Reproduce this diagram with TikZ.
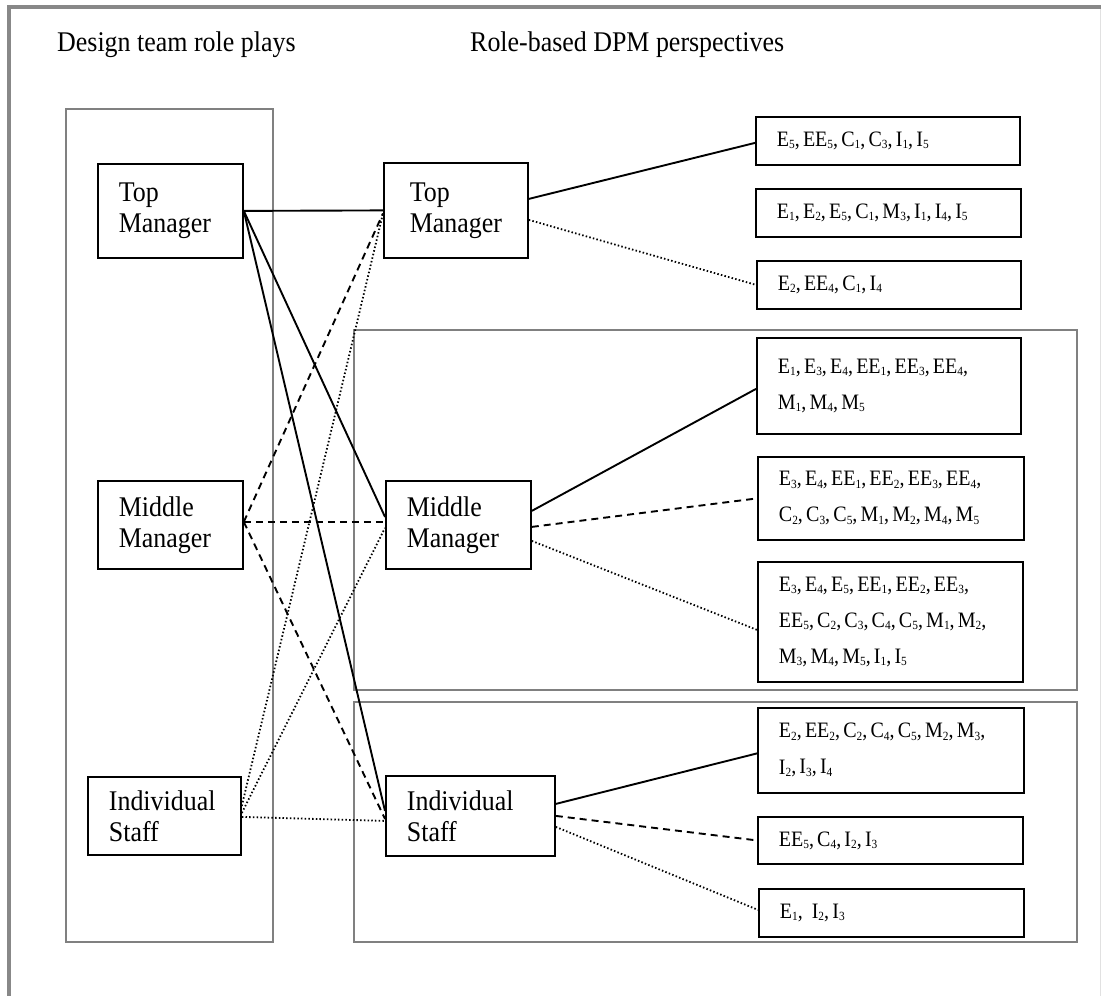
\documentclass[tikz,border=0pt]{standalone}
\usepackage{fontspec}
\setmainfont{Liberation Serif}[FakeStretch=0.91]
\usetikzlibrary{calc}
% small lowered index after a letter
\newcommand\sbs[1]{\raisebox{-2.5pt}{\fontsize{12.5}{12.5}\selectfont #1}}
% narrow word spaces inside the item boxes
\newcommand\tightspaces{\spaceskip=3.2pt plus 1pt\relax}
\definecolor{framegray}{RGB}{136,136,136}
\definecolor{groupgray}{RGB}{128,128,128}
\definecolor{edgegray}{RGB}{225,225,225}
\begin{document}
\begin{tikzpicture}[x=1pt,y=-1pt,
  rolebox/.style={draw,line width=1.8pt,align=left,inner xsep=21pt,inner ysep=0pt,
    anchor=north west,font=\fontsize{28.5}{31}\selectfont},
  itembox/.style={draw,line width=1.8pt,align=left,inner xsep=21pt,inner ysep=0pt,
    anchor=north west,font=\fontsize{22}{36}\selectfont,
    execute at begin node=\tightspaces},
  group/.style={draw=groupgray,line width=1.6pt},
  heading/.style={anchor=west,inner sep=0pt,font=\fontsize{28.5}{31}\selectfont},
  solidlink/.style={line width=1.9pt},
  dashedlink/.style={line width=1.9pt,dash pattern=on 7pt off 5pt},
  dottedlink/.style={line width=1.8pt,dash pattern=on 1.5pt off 2.2pt}]

\useasboundingbox (0,0) rectangle (1101,996);

% outer frame
\draw[edgegray,line width=1pt] (1100,7) -- (1100,996);
\draw[framegray,line width=3.5pt] (9,996) -- (9,7) -- (1101,7);

% headings
\node[heading] (h1) at (57,45) {Design team role plays};
\node[heading] (h2) at (470,45) {Role-based DPM perspectives};

% group frames
\draw[group] (66,109) rectangle (273,942);
\draw[group] (354,330) rectangle (1077,690);
\draw[group] (354,702) rectangle (1077,942);

% design team roles
\node[rolebox,minimum height=94pt,text width=103pt] (lt) at (97,163) {Top\\Manager};
\node[rolebox,minimum height=88pt,text width=103pt] (lm) at (97,480) {Middle\\Manager};
\node[rolebox,minimum height=78pt,text width=111pt] (ls) at (87,776) {Individual\\Staff};

% role-based perspectives
\node[rolebox,minimum height=95pt,text width=92pt,inner xsep=26pt] (mt) at (383,162) {Top\\Manager};
\node[rolebox,minimum height=88pt,text width=103pt] (mm) at (385,480) {Middle\\Manager};
\node[rolebox,minimum height=80pt,text width=127pt] (ms) at (385,775) {Individual\\Staff};

% perspective contents
\node[itembox,minimum height=48pt,text width=222pt] (r1) at (755,116)
  {E\sbs{5}, EE\sbs{5}, C\sbs{1}, C\sbs{3}, I\sbs{1}, I\sbs{5}};
\node[itembox,minimum height=48pt,text width=223pt] (r2) at (755,188)
  {E\sbs{1}, E\sbs{2}, E\sbs{5}, C\sbs{1}, M\sbs{3}, I\sbs{1}, I\sbs{4}, I\sbs{5}};
\node[itembox,minimum height=48pt,text width=222pt] (r3) at (756,260)
  {E\sbs{2}, EE\sbs{4}, C\sbs{1}, I\sbs{4}};
\node[itembox,minimum height=96pt,text width=222pt] (r4) at (756,337)
  {E\sbs{1}, E\sbs{3}, E\sbs{4}, EE\sbs{1}, EE\sbs{3}, EE\sbs{4},\\M\sbs{1}, M\sbs{4}, M\sbs{5}};
\node[itembox,minimum height=83pt,text width=224pt] (r5) at (757,456)
  {E\sbs{3}, E\sbs{4}, EE\sbs{1}, EE\sbs{2}, EE\sbs{3}, EE\sbs{4},\\C\sbs{2}, C\sbs{3}, C\sbs{5}, M\sbs{1}, M\sbs{2}, M\sbs{4}, M\sbs{5}};
\node[itembox,minimum height=120pt,text width=223pt] (r6) at (757,561)
  {E\sbs{3}, E\sbs{4}, E\sbs{5}, EE\sbs{1}, EE\sbs{2}, EE\sbs{3},\\EE\sbs{5}, C\sbs{2}, C\sbs{3}, C\sbs{4}, C\sbs{5}, M\sbs{1}, M\sbs{2},\\M\sbs{3}, M\sbs{4}, M\sbs{5}, I\sbs{1}, I\sbs{5}};
\node[itembox,minimum height=85pt,text width=224pt] (r7) at (757,707)
  {E\sbs{2}, EE\sbs{2}, C\sbs{2}, C\sbs{4}, C\sbs{5}, M\sbs{2}, M\sbs{3},\\I\sbs{2}, I\sbs{3}, I\sbs{4}};
\node[itembox,minimum height=47pt,text width=223pt] (r8) at (757,816)
  {EE\sbs{5}, C\sbs{4}, I\sbs{2}, I\sbs{3}};
\node[itembox,minimum height=48pt,text width=223pt] (r9) at (758,888)
  {E\sbs{1},\hspace{9pt}I\sbs{2}, I\sbs{3}};

% links from the top manager role
\draw[solidlink] (lt.east) -- (mt.west);
\draw[solidlink] (lt.east) -- ([yshift=8pt]mm.west);
\draw[solidlink] (lt.east) -- ([yshift=5pt]ms.west);

% links from the middle manager role
\draw[dashedlink] ([yshift=3pt]lm.east) -- ([yshift=-3pt]mt.west);
\draw[dashedlink] ([yshift=3pt]lm.east) -- ([yshift=3pt]mm.west);
\draw[dashedlink] ([yshift=3pt]lm.east) -- ([yshift=-3pt]ms.west);

% links from the individual staff role
\draw[dottedlink] ([yshift=10pt]ls.east) -- ([yshift=-3pt]mt.west);
\draw[dottedlink] ([yshift=3pt]ls.east) -- ([yshift=-3pt]mm.west);
\draw[dottedlink] ([yshift=-1pt]ls.east) -- ([yshift=-5pt]ms.west);

% perspective links
\draw[solidlink] ([yshift=11.5pt]mt.east) -- ([yshift=-2pt]r1.west);
\draw[dottedlink] ([yshift=-9.5pt]mt.east) -- (r3.west);

\draw[solidlink] ([yshift=14pt]mm.east) -- ([yshift=-3pt]r4.west);
\draw[dashedlink] ([yshift=-2pt]mm.east) -- (r5.west);
\draw[dottedlink] ([yshift=-16pt]mm.east) -- ([yshift=-8pt]r6.west);

\draw[solidlink] ([yshift=12pt]ms.east) -- ([yshift=-3pt]r7.west);
\draw[dashedlink] (ms.east) -- (r8.west);
\draw[dottedlink] ([yshift=-11pt]ms.east) -- ([yshift=3pt]r9.west);

\end{tikzpicture}
\end{document}
